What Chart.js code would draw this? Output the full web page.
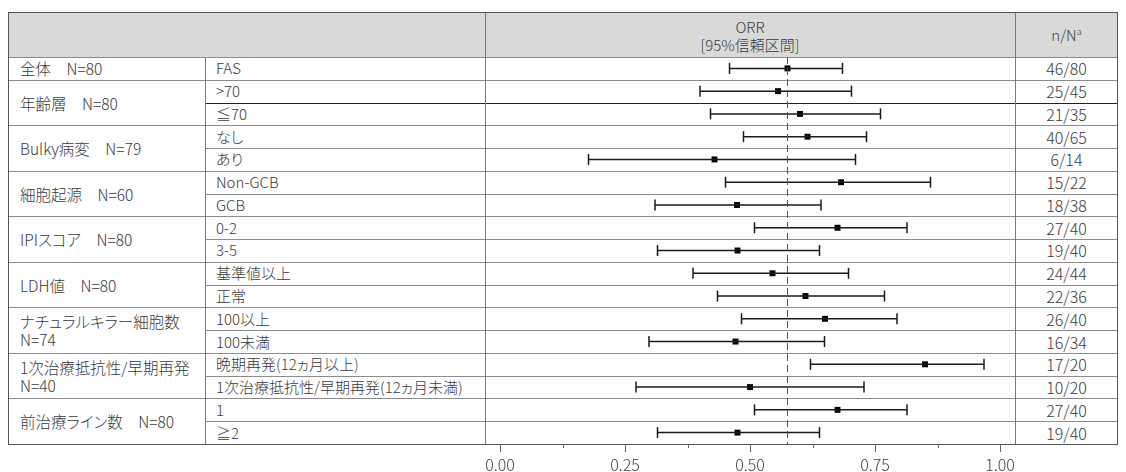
<!DOCTYPE html>
<html lang="ja">
<head>
<meta charset="utf-8">
<script src="https://cdn.jsdelivr.net/npm/chart.js@4.4.1/dist/chart.umd.min.js"></script>
<style>
	html, body { margin: 0; padding: 0; background: #fff; }
	#wrap { position: relative; width: 1126px; height: 472px; overflow: hidden; font-family: "Noto Sans CJK JP", "Noto Sans", sans-serif; font-weight: 300; color: #3a3a3a; font-feature-settings: "palt"; }
	#grid { position: absolute; left: 0; top: 0; width: 1126px; height: 472px; }
	#forest { position: absolute; left: 0; top: 0; }
	.hl, .vl { position: absolute; }
	.cell { position: absolute; font-size: 15px; line-height: 18px; white-space: nowrap; display: flex; align-items: center; }
	.head { position: absolute; font-size: 15px; line-height: 18px; text-align: center; }
	sup { font-size: 9px; vertical-align: 6px; line-height: 0; }
</style>
</head>
<body>
<div id="wrap">
	<div id="grid"></div>
	<canvas id="forest" width="1126" height="472"></canvas>
</div>
<script>
// VARIABLES ================================================

const groupLabels = [
	["全体　N=80"],
	["年齢層　N=80"],
	["Bulky病変　N=79"],
	["細胞起源　N=60"],
	["IPIスコア　N=80"],
	["LDH値　N=80"],
	["ナチュラルキラー細胞数", "N=74"],
	["1次治療抵抗性/早期再発", "N=40"],
	["前治療ライン数　N=80"],
];
const groupSizes = [1, 2, 2, 2, 2, 2, 2, 2, 2];

const subgroups = [
	"FAS", ">70", "≦70", "なし", "あり", "Non-GCB", "GCB", "0-2", "3-5",
	"基準値以上", "正常", "100以上", "100未満", "晩期再発(12ヵ月以上)",
	"1次治療抵抗性/早期再発(12ヵ月未満)", "1", "≧2",
];
const responders = [
	"46/80", "25/45", "21/35", "40/65", "6/14", "15/22", "18/38", "27/40", "19/40",
	"24/44", "22/36", "26/40", "16/34", "17/20", "10/20", "27/40", "19/40",
];

const orr = [0.575, 0.556, 0.600, 0.615, 0.429, 0.682, 0.474, 0.675, 0.475, 0.545, 0.611, 0.650, 0.471, 0.850, 0.500, 0.675, 0.475];
const ciLow = [0.459, 0.400, 0.421, 0.487, 0.177, 0.451, 0.310, 0.509, 0.315, 0.386, 0.435, 0.483, 0.298, 0.621, 0.272, 0.509, 0.315];
const ciHigh = [0.685, 0.703, 0.761, 0.733, 0.711, 0.861, 0.642, 0.814, 0.639, 0.697, 0.769, 0.794, 0.649, 0.968, 0.728, 0.814, 0.639];

const overallOrr = 0.575;
const minorTickValues = [0.125, 0.375, 0.625, 0.875];

// table frame (pixels)
const tableLeft = 8;
const tableRight = 1118;
const tableTop = 12;
const headBottom = 57;
const tableBottom = 444;
const col2 = 205;
const col3 = 485;
const col4 = 1015;
const rowHeight = (tableBottom - headBottom) / subgroups.length;

// FUNCTIONS ================================================

const grid = document.getElementById("grid");

function addBox(cls, left, top, width, height, css) {
	const el = document.createElement("div");
	el.className = cls;
	el.style.left = left + "px";
	el.style.top = top + "px";
	el.style.width = width + "px";
	el.style.height = height + "px";
	if (css) Object.assign(el.style, css);
	grid.appendChild(el);
	return el;
}

function drawTable() {
	// header background
	addBox("hl", tableLeft, tableTop, tableRight - tableLeft, headBottom - tableTop, { background: "#d9d9d9" });
	const orrHead = addBox("head", col3, tableTop + 6, col4 - col3, 40);
	orrHead.innerHTML = "ORR<br>[95%信頼区間]";
	const nHead = addBox("head", col4, tableTop + 14, tableRight - col4, 20);
	nHead.innerHTML = "n/N<sup>a</sup>";

	// row lines and texts
	let row = 0;
	for (let g = 0; g < groupLabels.length; g++) {
		const top = headBottom + row * rowHeight;
		const h = groupSizes[g] * rowHeight;
		const label = addBox("cell", tableLeft + 12, top, col2 - tableLeft - 12, h, { fontSize: "15.5px" });
		label.innerHTML = groupLabels[g].join("<br>");
		if (g > 0) addBox("hl", tableLeft, Math.round(top), tableRight - tableLeft, 1, { background: "#8c8c8c" });
		for (let k = 0; k < groupSizes[g]; k++) {
			const i = row + k;
			const rt = headBottom + i * rowHeight;
			addBox("cell", col2 + 11, rt, col3 - col2 - 11, rowHeight).textContent = subgroups[i];
			addBox("cell", col4, rt, tableRight - col4, rowHeight, { justifyContent: "center", fontSize: "16px" }).textContent = responders[i];
			if (k > 0) {
				const dark = i === 2;
				addBox("hl", col2, Math.round(rt), tableRight - col2, 1, { background: dark ? "#222" : "#8c8c8c" });
			}
		}
		row += groupSizes[g];
	}

	// vertical lines and frame
	addBox("hl", tableLeft, headBottom, tableRight - tableLeft, 1, { background: "#8c8c8c" });
	addBox("vl", col2, headBottom, 1, tableBottom - headBottom, { background: "#7a7a7a" });
	addBox("vl", col3, tableTop, 1, tableBottom - tableTop, { background: "#7a7a7a" });
	addBox("vl", col4, tableTop, 1, tableBottom - tableTop, { background: "#7a7a7a" });
	addBox("hl", tableLeft, tableTop, tableRight - tableLeft - 2, tableBottom - tableTop - 1, { border: "1px solid #555" });
}

const minorTicks = {
	id: "minorTicks",
	afterDraw(chart) {
		const x = chart.scales.x;
		const bottom = chart.chartArea.bottom;
		const ctx = chart.ctx;
		ctx.save();
		ctx.strokeStyle = "#666";
		ctx.lineWidth = 1;
		for (const v of minorTickValues) {
			const px = Math.round(x.getPixelForValue(v)) + 0.5;
			ctx.beginPath();
			ctx.moveTo(px, bottom);
			ctx.lineTo(px, bottom + 4);
			ctx.stroke();
		}
		ctx.restore();
	},
};

function renderChart() {
	const ciSets = subgroups.map((name, i) => ({
		type: "line",
		label: name,
		data: [{ x: ciLow[i], y: i }, { x: ciHigh[i], y: i }],
		borderColor: "#1a1a1a",
		borderWidth: 1.5,
		pointStyle: "line",
		pointRotation: 90,
		pointRadius: 5.5,
		pointBorderWidth: 1.5,
		pointBorderColor: "#1a1a1a",
	}));
	const refLine = {
		type: "line",
		label: "全体",
		data: [{ x: overallOrr, y: -0.5 }, { x: overallOrr, y: subgroups.length - 0.5 }],
		borderColor: "#555",
		borderWidth: 1,
		borderDash: [7, 4],
		pointRadius: 0,
	};
	const points = {
		type: "scatter",
		label: "ORR",
		data: orr.map((v, i) => ({ x: v, y: i })),
		pointStyle: "rect",
		pointRadius: 4.2,
		backgroundColor: "#000",
		borderColor: "#000",
		borderWidth: 0,
	};
	new Chart(document.getElementById("forest"), {
		type: "scatter",
		data: { datasets: [refLine, ...ciSets, points] },
		options: {
			responsive: false,
			animation: false,
			events: [],
			layout: { padding: { left: 500, right: 126, top: headBottom, bottom: 0 } },
			plugins: { legend: { display: false }, tooltip: { enabled: false } },
			scales: {
				x: {
					type: "linear",
					min: 0,
					max: 1,
					afterFit: (scale) => { scale.height = 472 - tableBottom; },
					border: { display: false },
					grid: { drawOnChartArea: false, drawTicks: true, tickLength: 8, tickColor: "#666" },
					ticks: {
						stepSize: 0.25,
						padding: 3,
						color: "#444",
						font: { family: "'Noto Sans CJK JP', 'Noto Sans', sans-serif", size: 16, weight: 300 },
						callback: (v) => Number(v).toFixed(2),
					},
				},
				y: {
					type: "linear",
					display: false,
					reverse: true,
					min: -0.5,
					max: subgroups.length - 0.5,
				},
			},
		},
		plugins: [minorTicks],
	});
}

drawTable();
renderChart();

// END ======================================================
</script>
</body>
</html>
